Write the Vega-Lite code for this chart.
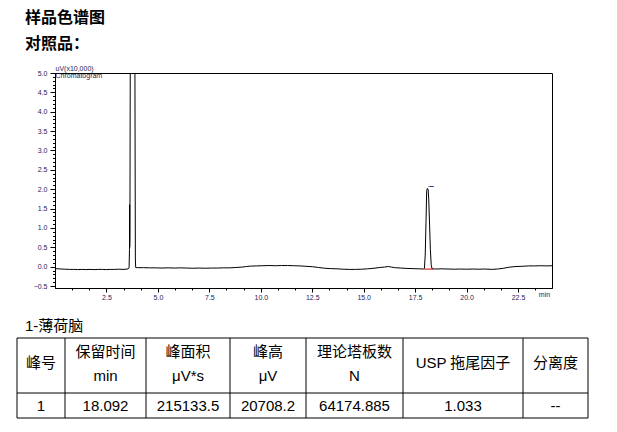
{
  "$schema": "https://vega.github.io/schema/vega-lite/v6.json",
  "background": "white",
  "padding": {"left": 16, "top": 10, "right": 30, "bottom": 5},
  "title": {
    "text": "样品色谱图",
    "subtitle": "对照品：",
    "anchor": "start",
    "frame": "group",
    "dx": -30,
    "offset": 12,
    "font": "Noto Sans CJK SC",
    "fontSize": 16,
    "fontWeight": "bold",
    "color": "black",
    "subtitleFont": "Noto Sans CJK SC",
    "subtitleFontSize": 16,
    "subtitleFontWeight": "bold",
    "subtitleColor": "black",
    "subtitlePadding": 10
  },
  "spacing": 50,
  "bounds": "flush",
  "config": {"view": {"stroke": null}, "axis": {"grid": false}},
  "datasets": {
    "chrom": [
      {"t": 0.0, "v": -0.05}, {"t": 0.15, "v": -0.055}, {"t": 0.3, "v": -0.06}, {"t": 0.5, "v": -0.065},
      {"t": 0.7, "v": -0.07}, {"t": 0.9, "v": -0.07}, {"t": 1.1, "v": -0.075}, {"t": 1.3, "v": -0.07},
      {"t": 1.5, "v": -0.075}, {"t": 1.7, "v": -0.07}, {"t": 1.9, "v": -0.075}, {"t": 2.1, "v": -0.07},
      {"t": 2.3, "v": -0.07}, {"t": 2.5, "v": -0.075}, {"t": 2.7, "v": -0.07}, {"t": 2.9, "v": -0.07},
      {"t": 3.1, "v": -0.065}, {"t": 3.3, "v": -0.07}, {"t": 3.45, "v": -0.065}, {"t": 3.55, "v": -0.055},
      {"t": 3.6, "v": -0.03}, {"t": 3.62, "v": 0.45}, {"t": 3.625, "v": 1.6}, {"t": 3.63, "v": 0.5},
      {"t": 3.64, "v": 0.8}, {"t": 3.66, "v": 6.0}, {"t": 3.88, "v": 6.0}, {"t": 3.905, "v": 0.2},
      {"t": 3.92, "v": -0.02}, {"t": 4.0, "v": -0.025}, {"t": 4.3, "v": -0.025}, {"t": 4.6, "v": -0.03},
      {"t": 4.9, "v": -0.03}, {"t": 5.2, "v": -0.035}, {"t": 5.5, "v": -0.03}, {"t": 5.8, "v": -0.035},
      {"t": 6.1, "v": -0.03}, {"t": 6.4, "v": -0.035}, {"t": 6.7, "v": -0.04}, {"t": 7.0, "v": -0.035},
      {"t": 7.3, "v": -0.04}, {"t": 7.6, "v": -0.035}, {"t": 7.9, "v": -0.035}, {"t": 8.2, "v": -0.03},
      {"t": 8.5, "v": -0.03}, {"t": 8.8, "v": -0.02}, {"t": 9.1, "v": -0.01}, {"t": 9.3, "v": 0.005},
      {"t": 9.5, "v": 0.015}, {"t": 9.8, "v": 0.02}, {"t": 10.1, "v": 0.025}, {"t": 10.4, "v": 0.03},
      {"t": 10.7, "v": 0.025}, {"t": 11.0, "v": 0.03}, {"t": 11.3, "v": 0.03}, {"t": 11.6, "v": 0.025},
      {"t": 11.9, "v": 0.02}, {"t": 12.2, "v": 0.01}, {"t": 12.5, "v": 0.0}, {"t": 12.8, "v": -0.02},
      {"t": 13.1, "v": -0.04}, {"t": 13.4, "v": -0.05}, {"t": 13.7, "v": -0.055}, {"t": 14.0, "v": -0.065},
      {"t": 14.3, "v": -0.07}, {"t": 14.6, "v": -0.07}, {"t": 14.9, "v": -0.065}, {"t": 15.2, "v": -0.055},
      {"t": 15.5, "v": -0.04}, {"t": 15.8, "v": -0.02}, {"t": 16.0, "v": -0.01}, {"t": 16.2, "v": 0.005},
      {"t": 16.35, "v": -0.01}, {"t": 16.5, "v": -0.025}, {"t": 16.8, "v": -0.035}, {"t": 17.1, "v": -0.045},
      {"t": 17.4, "v": -0.05}, {"t": 17.7, "v": -0.055}, {"t": 17.9, "v": -0.06}, {"t": 17.95, "v": -0.05},
      {"t": 17.99, "v": 0.3}, {"t": 18.03, "v": 1.2}, {"t": 18.06, "v": 1.95}, {"t": 18.09, "v": 2.02},
      {"t": 18.13, "v": 2.0}, {"t": 18.16, "v": 1.75}, {"t": 18.2, "v": 1.1}, {"t": 18.24, "v": 0.45},
      {"t": 18.28, "v": 0.05}, {"t": 18.32, "v": -0.055}, {"t": 18.5, "v": -0.06}, {"t": 18.8, "v": -0.055},
      {"t": 19.1, "v": -0.06}, {"t": 19.4, "v": -0.065}, {"t": 19.7, "v": -0.06}, {"t": 20.0, "v": -0.065},
      {"t": 20.3, "v": -0.06}, {"t": 20.6, "v": -0.065}, {"t": 20.9, "v": -0.06}, {"t": 21.2, "v": -0.07},
      {"t": 21.5, "v": -0.06}, {"t": 21.8, "v": -0.04}, {"t": 22.1, "v": -0.01}, {"t": 22.4, "v": 0.005},
      {"t": 22.7, "v": 0.01}, {"t": 23.0, "v": 0.02}, {"t": 23.3, "v": 0.02}, {"t": 23.6, "v": 0.025},
      {"t": 23.9, "v": 0.02}, {"t": 24.15, "v": 0.025}
    ],
    "peakmarks": [
      {"kind": "baseline", "start": 17.95, "end": 18.36, "level": -0.062},
      {"kind": "apexL", "start": 18.14, "end": 18.2, "level": 2.07},
      {"kind": "apexR", "start": 18.2, "end": 18.41, "level": 2.07}
    ],
    "colEdges": [{"edge": 0}, {"edge": 1}, {"edge": 2}, {"edge": 3}, {"edge": 4}, {"edge": 5}, {"edge": 6}, {"edge": 7}],
    "rowEdges": [{"edge": 0}, {"edge": 1}, {"edge": 2}],
    "cells": [
      {"slot": 1, "col": 0, "label": "峰号"},
      {"slot": 0, "col": 1, "label": "保留时间"},
      {"slot": 2, "col": 1, "label": "min"},
      {"slot": 0, "col": 2, "label": "峰面积"},
      {"slot": 2, "col": 2, "label": "μV*s"},
      {"slot": 0, "col": 3, "label": "峰高"},
      {"slot": 2, "col": 3, "label": "μV"},
      {"slot": 0, "col": 4, "label": "理论塔板数"},
      {"slot": 2, "col": 4, "label": "N"},
      {"slot": 1, "col": 5, "label": "USP 拖尾因子"},
      {"slot": 1, "col": 6, "label": "分离度"},
      {"slot": 3, "col": 0, "label": "1"},
      {"slot": 3, "col": 1, "label": "18.092"},
      {"slot": 3, "col": 2, "label": "215133.5"},
      {"slot": 3, "col": 3, "label": "20708.2"},
      {"slot": 3, "col": 4, "label": "64174.885"},
      {"slot": 3, "col": 5, "label": "1.033"},
      {"slot": 3, "col": 6, "label": "--"}
    ]
  },
  "vconcat": [
    {
      "width": 497,
      "height": 215,
      "view": {"stroke": "black", "strokeWidth": 1},
      "layer": [
        {
          "data": {"name": "chrom"},
          "mark": {"type": "line", "color": "black", "strokeWidth": 1, "clip": true},
          "encoding": {
            "x": {
              "field": "t", "type": "quantitative",
              "scale": {"domain": [0, 24.15], "nice": false, "zero": false},
              "axis": {
                "orient": "bottom",
                "values": [2.5, 5, 7.5, 10, 12.5, 15, 17.5, 20, 22.5],
                "format": ".1f",
                "labelFont": "Liberation Sans", "labelFontSize": 7, "labelColor": "#1c1c5c",
                "labelPadding": 1, "labelFlush": false,
                "tickSize": 4, "tickColor": "black", "domainColor": "black",
                "title": "min", "titleX": 489, "titleY": 6.5, "titleBaseline": "middle", "titleAlign": "center",
                "titleFont": "Liberation Sans", "titleFontSize": 7, "titleFontWeight": "normal", "titleColor": "#1c1c5c"
              }
            },
            "y": {
              "field": "v", "type": "quantitative",
              "scale": {"domain": [-0.55, 5.0], "nice": false, "zero": false},
              "axis": {
                "orient": "left",
                "values": [-0.5, 0, 0.5, 1, 1.5, 2, 2.5, 3, 3.5, 4, 4.5, 5],
                "format": ".1f",
                "labelFont": "Liberation Sans", "labelFontSize": 7, "labelColor": "#1c1c5c",
                "labelPadding": 3,
                "tickSize": 5, "tickColor": "black", "domainColor": "black",
                "title": ["uV(x10,000)", "Chromatogram"],
                "titleAngle": 0, "titleAlign": "left", "titleBaseline": "middle",
                "titleX": 0, "titleY": -4.5, "titleLineHeight": 6.5,
                "titleFont": "Liberation Sans", "titleFontSize": 7, "titleFontWeight": "normal", "titleColor": "#1c1c5c"
              }
            }
          }
        },
        {
          "data": {"name": "peakmarks"},
          "mark": {"type": "rule", "strokeWidth": 1},
          "encoding": {
            "x": {
              "field": "start", "type": "quantitative",
              "scale": {"domain": [0, 24.15], "nice": false, "zero": false},
              "axis": {
                "orient": "bottom", "labels": false, "title": null, "domain": false, "tickSize": 2, "tickColor": "black",
                "values": [0.833, 1.667, 3.333, 4.167, 5.833, 6.667, 8.333, 9.167, 10.833, 11.667, 13.333, 14.167, 15.833, 16.667, 18.333, 19.167, 20.833, 21.667, 23.333]
              }
            },
            "x2": {"field": "end"},
            "y": {
              "field": "level", "type": "quantitative",
              "scale": {"domain": [-0.55, 5.0], "nice": false, "zero": false},
              "axis": {
                "orient": "left", "labels": false, "title": null, "domain": false, "tickSize": 2.5, "tickColor": "black",
                "values": [-0.4, -0.3, -0.2, -0.1, 0.1, 0.2, 0.3, 0.4, 0.6, 0.7, 0.8, 0.9, 1.1, 1.2, 1.3, 1.4, 1.6, 1.7, 1.8, 1.9, 2.1, 2.2, 2.3, 2.4, 2.6, 2.7, 2.8, 2.9, 3.1, 3.2, 3.3, 3.4, 3.6, 3.7, 3.8, 3.9, 4.1, 4.2, 4.3, 4.4, 4.6, 4.7, 4.8, 4.9]
              }
            },
            "color": {
              "field": "kind", "type": "nominal",
              "scale": {"domain": ["baseline", "apexL", "apexR"], "range": ["#e00000", "#e05000", "#1a3fbf"]},
              "legend": null
            }
          }
        }
      ],
      "resolve": {"axis": {"x": "independent", "y": "independent"}}
    },
    {
      "width": 497,
      "height": 80,
      "title": {
        "text": "1-薄荷脑", "anchor": "start", "frame": "group", "dx": -30, "offset": 4,
        "font": "Liberation Sans, Noto Sans CJK SC", "fontSize": 15, "fontWeight": "normal", "color": "black"
      },
      "layer": [
        {
          "layer": [
            {
              "data": {"name": "colEdges"},
              "mark": {"type": "rule", "color": "black", "strokeWidth": 1},
              "encoding": {
                "x": {"field": "edge", "type": "quantitative",
                      "scale": {"domain": [0, 1, 2, 3, 4, 5, 6, 7], "range": [-38, 10, 91, 175, 251, 348, 468, 533]}, "axis": null},
                "y": {"datum": 0, "type": "quantitative",
                      "scale": {"domain": [0, 1, 2], "range": [0, 55, 80]}, "axis": null},
                "y2": {"datum": 2}
              }
            },
            {
              "data": {"name": "rowEdges"},
              "mark": {"type": "rule", "color": "black", "strokeWidth": 1},
              "encoding": {
                "y": {"field": "edge", "type": "quantitative",
                      "scale": {"domain": [0, 1, 2], "range": [0, 55, 80]}, "axis": null},
                "x": {"datum": 0, "type": "quantitative",
                      "scale": {"domain": [0, 1, 2, 3, 4, 5, 6, 7], "range": [-38, 10, 91, 175, 251, 348, 468, 533]}, "axis": null},
                "x2": {"datum": 7}
              }
            }
          ]
        },
        {
          "data": {"name": "cells"},
          "mark": {"type": "text", "font": "Liberation Sans, Noto Sans CJK SC", "fontSize": 15, "color": "black", "align": "center", "baseline": "middle"},
          "encoding": {
            "x": {"field": "col", "type": "quantitative",
                  "scale": {"domain": [0, 1, 2, 3, 4, 5, 6], "range": [-14, 50.5, 133, 213, 299.5, 408, 500.5]}, "axis": null},
            "y": {"field": "slot", "type": "quantitative",
                  "scale": {"domain": [0, 1, 2, 3], "range": [14, 24.5, 38, 67.5]}, "axis": null},
            "text": {"field": "label"}
          }
        }
      ],
      "resolve": {"scale": {"x": "independent", "y": "independent"}}
    }
  ]
}
